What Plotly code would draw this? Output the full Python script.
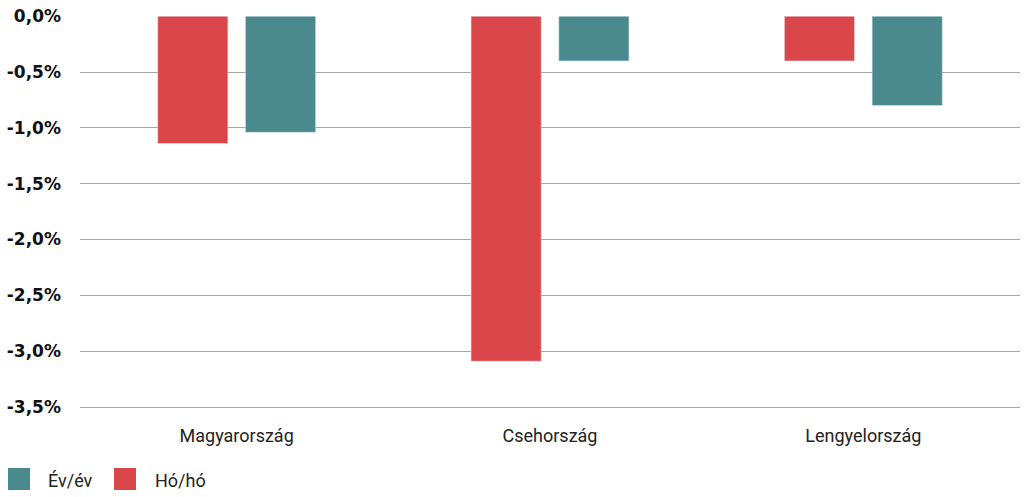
import plotly.graph_objects as go

# Data
countries = ["Magyarország", "Csehország", "Lengyelország"]
ho_ho = [-1.14, -3.09, -0.40]
ev_ev = [-1.04, -0.40, -0.80]
tick_vals = [0, -0.5, -1.0, -1.5, -2.0, -2.5, -3.0, -3.5]
tick_text = ["0,0%", "-0,5%", "-1,0%", "-1,5%", "-2,0%", "-2,5%", "-3,0%", "-3,5%"]
legend_names = ["Év/év", "Hó/hó"]

RED = "#D9474A"
TEAL = "#4A8A8C"
GRID = "#A6A6A6"

W, H = 1024, 497
L, R, T, B = 80, 4, 16, 90
PW, PH = W - L - R, H - T - B


def px_x(x):
    # pixel -> paper x
    return (x - L) / PW


def px_y(y):
    # pixel (from top) -> paper y
    return (H - B - y) / PH


fig = go.Figure()
fig.add_trace(go.Bar(x=countries, y=ho_ho, name="Hó/hó", marker_color=RED, showlegend=False))
fig.add_trace(go.Bar(x=countries, y=ev_ev, name="Év/év", marker_color=TEAL, showlegend=False))

# legend drawn by hand (plotly caps the legend symbol size)
legend_colors = [TEAL, RED]
legend_sq_x = [8, 114]
legend_txt_x = [46, 153]
for name, col, sx, tx in zip(legend_names, legend_colors, legend_sq_x, legend_txt_x):
    fig.add_shape(type="rect", xref="paper", yref="paper",
                  x0=px_x(sx), x1=px_x(sx + 22), y0=px_y(490), y1=px_y(468),
                  fillcolor=col, line_width=0)
    fig.add_annotation(text=name, xref="paper", yref="paper",
                       x=px_x(tx), y=px_y(480), xanchor="left", yanchor="middle",
                       showarrow=False, font=dict(family="Roboto", size=18, color="#222222"))

fig.update_layout(
    width=W,
    height=H,
    margin=dict(l=L, r=R, t=T, b=B, autoexpand=False),
    plot_bgcolor="white",
    paper_bgcolor="white",
    barmode="group",
    bargap=0.44,
    bargroupgap=0.2,
    showlegend=False,
    font=dict(family="Roboto", size=18, color="#222222"),
    xaxis=dict(showgrid=False, showline=True, linecolor=GRID, linewidth=1,
               ticks="", tickfont=dict(size=18), ticklabelstandoff=12),
    yaxis=dict(
        range=[-3.5, 0.002],
        tickvals=tick_vals,
        ticktext=tick_text,
        showgrid=True,
        gridcolor=GRID,
        gridwidth=1,
        zeroline=False,
        tickfont=dict(family="DejaVu Sans", size=17, color="#111111", weight="bold"),
        ticklabelstandoff=18,
        ticklabeloverflow="allow",
    ),
)

# drop the default 8px page margin so the figure sits at the window corner
fig.write_html("out.html", config={"displayModeBar": False},
               post_script="document.body.style.margin='0';")
